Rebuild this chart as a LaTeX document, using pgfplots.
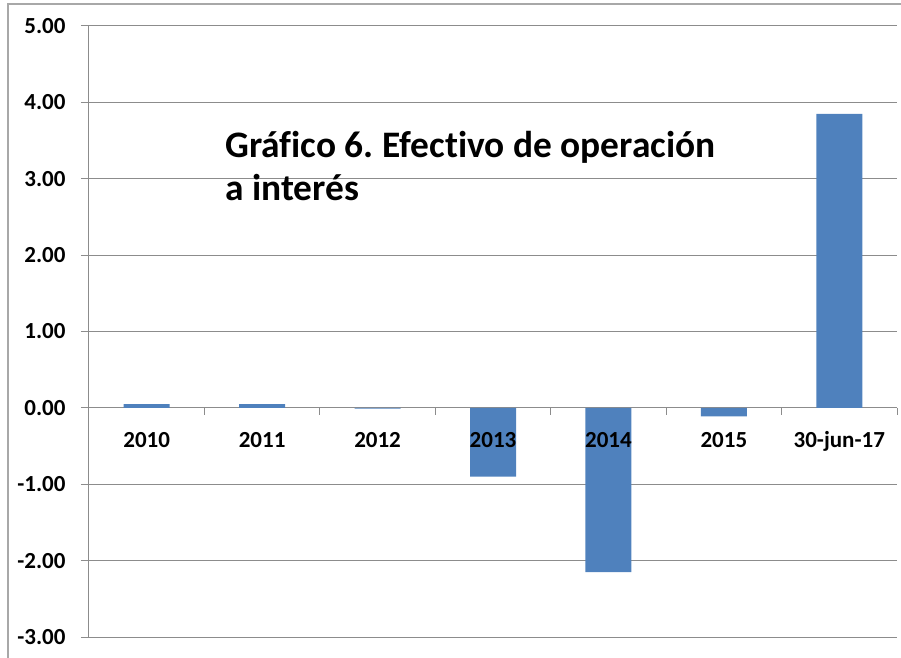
\documentclass[border=0pt]{standalone}
\usepackage{pgfplots}
\pgfplotsset{compat=1.18}
\usepackage{fontspec}
\setmainfont[Ligatures=NoCommon]{Carlito}
\definecolor{barblue}{HTML}{4F81BD}
\definecolor{gridgray}{HTML}{8C8C8C}
\definecolor{framegray}{HTML}{A8A8A8}
\tikzset{xlab/.style={anchor=base, inner sep=0pt, font=\bfseries\fontsize{23}{27}\selectfont}}
\begin{document}
\frenchspacing
\begin{tikzpicture}
\begin{axis}[
  scale only axis, width=808pt, height=611pt,
  xmin=-0.5, xmax=6.5, ymin=-3, ymax=5,
  axis y line=left, axis x line=middle,
  axis line style={-, gridgray, line width=1pt},
  ytick={-3,-2,-1,0,1,2,3,4,5},
  yticklabels={-3.00,-2.00,-1.00,0.00,1.00,2.00,3.00,4.00,5.00},
  xtick={0,1,2,3,4,5,6},
  xticklabels={},
  ymajorgrids, major grid style={gridgray, line width=1pt},
  ytick align=outside, major tick length=8pt,
  ytick style={gridgray, line width=1pt},
  major x tick style={draw=none},
  ticklabel style={font=\bfseries\fontsize{23}{27}\selectfont},
  yticklabel style={xshift=-12pt},
  clip=false,
]
\addplot[ybar, bar width=46pt, fill=barblue, draw=none] coordinates {
  (0,0.05) (1,0.05) (2,-0.01) (3,-0.90) (4,-2.15) (5,-0.11) (6,3.85)
};
\pgfplotsinvokeforeach{0.5,1.5,2.5,3.5,4.5,5.5,6.5}{
  \draw[gridgray, line width=1pt] (axis cs:#1,0) -- ([yshift=-7pt]axis cs:#1,0);
}
\node[xlab] at ([yshift=-40pt]axis cs:0,0) {2010};
\node[xlab] at ([yshift=-40pt]axis cs:1,0) {2011};
\node[xlab] at ([yshift=-40pt]axis cs:2,0) {2012};
\node[xlab] at ([yshift=-40pt]axis cs:3,0) {2013};
\node[xlab] at ([yshift=-40pt]axis cs:4,0) {2014};
\node[xlab] at ([yshift=-40pt]axis cs:5,0) {2015};
\node[xlab] at ([yshift=-40pt]axis cs:6,0) {30-jun-17};
\coordinate (bl) at (rel axis cs:0,0);
\end{axis}
\pgfresetboundingbox
\useasboundingbox ([xshift=-89pt,yshift=-20pt]bl) rectangle ([xshift=812pt,yshift=637pt]bl);
\draw[framegray, line width=1.5pt] ([xshift=-81pt,yshift=-30pt]bl) -- ([xshift=-81pt,yshift=633pt]bl) -- ([xshift=830pt,yshift=633pt]bl);
\node[anchor=base west, inner sep=0pt, font=\bfseries\fontsize{37.4}{42}\selectfont] at ([xshift=136pt,yshift=479pt]bl) {Gráfico 6. Efectivo de operación};
\node[anchor=base west, inner sep=0pt, font=\bfseries\fontsize{37.4}{42}\selectfont] at ([xshift=136pt,yshift=437pt]bl) {a interés};
\end{tikzpicture}
\end{document}
